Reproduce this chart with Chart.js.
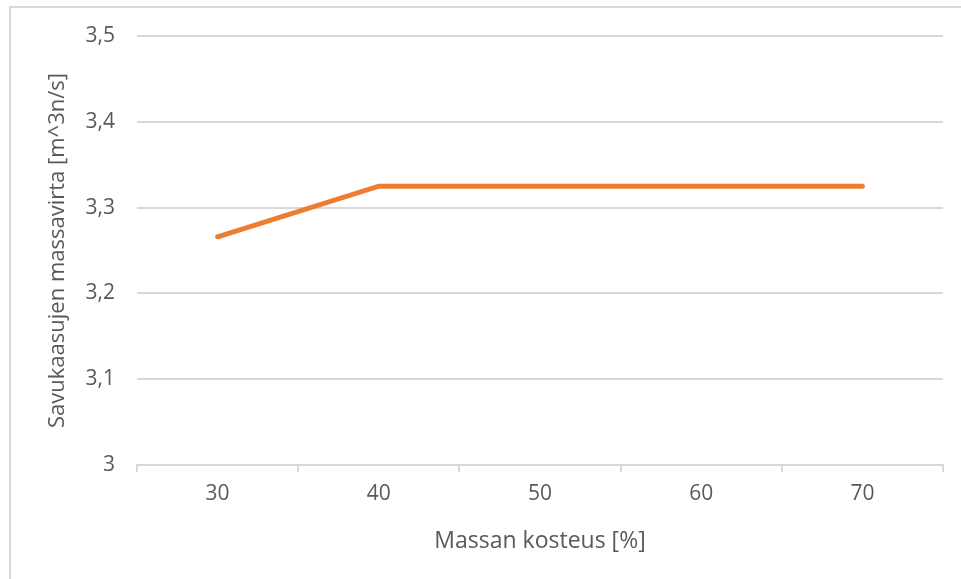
<!DOCTYPE html>
<html>
<head>
<meta charset="utf-8">
<script src="https://cdn.jsdelivr.net/npm/chart.js@4/dist/chart.umd.min.js"></script>
<style>
  html, body { margin: 0; padding: 0; background: #fff; }
  body { width: 961px; height: 579px; position: relative; overflow: hidden; }
  #frame { position: absolute; left: 9px; top: 6px; width: 1000px; height: 1000px;
           border-left: 2px solid #d9d9d9; border-top: 2px solid #d9d9d9; }
  #wrap { position: absolute; left: 0; top: 0; width: 961px; height: 579px; }
</style>
</head>
<body>
<div id="frame"></div>
<div id="wrap"><canvas id="myChart" width="961" height="579"></canvas></div>
<script>
var kosteus = ['30', '40', '50', '60', '70'];
var massavirta = [3.266, 3.325, 3.325, 3.325, 3.325];

var xTitle = 'Massan kosteus [%]';
var yTitle = 'Savukaasujen massavirta [m^3n/s]';

var textColor = '#595959';
var gridColor = '#d9d9d9';
var fontFamily = "'Open Sans', 'Segoe UI', sans-serif";

const data = {
    labels: kosteus,
    datasets: [{
        data: massavirta,
        borderColor: '#ED7D31',
        backgroundColor: '#ED7D31',
        borderWidth: 5,
        pointRadius: 0,
        tension: 0,
        borderCapStyle: 'round'
    }]
};

const config = {
    type: 'line',
    data: data,
    options: {
        responsive: false,
        animation: false,
        layout: { padding: { left: 40, right: 18, top: 36, bottom: 20 } },
        plugins: { legend: { display: false }, tooltip: { enabled: false } },
        scales: {
            x: {
                offset: true,
                grid: { display: true, drawOnChartArea: false, drawTicks: true, tickLength: 7, color: gridColor, offset: true, lineWidth: 2 },
                border: { display: true, color: gridColor, width: 2 },
                ticks: { color: textColor, font: { family: fontFamily, size: 21 }, padding: 9 },
                title: { display: true, text: xTitle, color: textColor, font: { family: fontFamily, size: 23 }, padding: { top: 12 } },
                afterFit: function (scale) { scale.height = 579 - 465 - 20; }
            },
            y: {
                min: 3,
                max: 3.5,
                ticks: {
                    stepSize: 0.1,
                    color: textColor,
                    font: { family: fontFamily, size: 21 },
                    padding: 22,
                    callback: function (v) { return Number(v.toFixed(1)).toString().replace('.', ','); }
                },
                grid: { color: gridColor, lineWidth: 2, drawTicks: false },
                border: { display: false },
                title: { display: true, text: yTitle, color: textColor, font: { family: fontFamily, size: 22 }, padding: { top: 5, bottom: 0 } },
                afterFit: function (scale) { scale.width = 137 - 40; }
            }
        }
    }
};

const myChart = new Chart(document.getElementById('myChart'), config);
</script>
</body>
</html>
